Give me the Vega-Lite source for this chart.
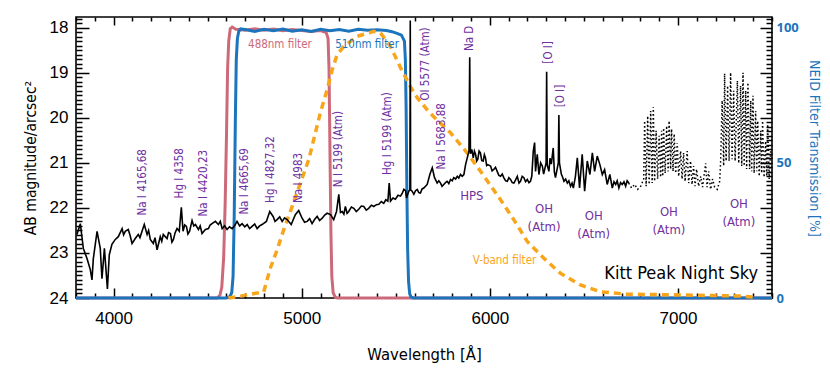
{
  "$schema": "https://vega.github.io/schema/vega-lite/v6.json",
  "width": 696,
  "height": 281,
  "autosize": {"type": "none"},
  "padding": {"left": 76, "top": 17, "right": 58, "bottom": 75},
  "background": "white",
  "config": {
    "view": {"stroke": "black", "strokeWidth": 1.6},
    "axis": {"grid": false, "domain": false}
  },
  "datasets": {
    "spec": [
      {"w":3805,"m":22.59},{"w":3823,"m":22.35},{"w":3839,"m":22.90},{"w":3859,"m":23.13},{"w":3876,"m":23.37},{"w":3885,"m":23.60},{"w":3892,"m":23.13},{"w":3912,"m":22.52},{"w":3929,"m":22.90},{"w":3938,"m":23.57},{"w":3951,"m":22.90},{"w":3967,"m":23.80},{"w":3977,"m":23.04},{"w":3991,"m":22.81},{"w":4009,"m":22.70},{"w":4025,"m":22.64},{"w":4045,"m":22.46},{"w":4053,"m":22.60},{"w":4062,"m":22.52},{"w":4078,"m":22.48},{"w":4088,"m":22.62},{"w":4098,"m":22.79},{"w":4115,"m":22.68},{"w":4131,"m":22.59},{"w":4140,"m":22.66},{"w":4151,"m":22.52},{"w":4163,"m":22.37},{"w":4178,"m":22.59},{"w":4186,"m":22.50},{"w":4195,"m":22.70},{"w":4211,"m":22.79},{"w":4220,"m":22.66},{"w":4231,"m":22.93},{"w":4248,"m":22.64},{"w":4256,"m":22.74},{"w":4264,"m":22.59},{"w":4284,"m":22.68},{"w":4292,"m":22.55},{"w":4302,"m":22.57},{"w":4310,"m":22.76},{"w":4318,"m":22.70},{"w":4327,"m":22.55},{"w":4337,"m":22.46},{"w":4349,"m":22.52},{"w":4360,"m":21.99},{"w":4369,"m":22.52},{"w":4378,"m":22.38},{"w":4387,"m":22.41},{"w":4395,"m":22.58},{"w":4404,"m":22.52},{"w":4417,"m":22.28},{"w":4426,"m":22.40},{"w":4435,"m":22.37},{"w":4451,"m":22.48},{"w":4460,"m":22.40},{"w":4470,"m":22.57},{"w":4488,"m":22.48},{"w":4504,"m":22.46},{"w":4513,"m":22.38},{"w":4523,"m":22.35},{"w":4541,"m":22.30},{"w":4557,"m":22.37},{"w":4567,"m":22.30},{"w":4577,"m":22.46},{"w":4590,"m":22.40},{"w":4603,"m":22.48},{"w":4616,"m":22.42},{"w":4630,"m":22.46},{"w":4643,"m":22.40},{"w":4656,"m":22.30},{"w":4670,"m":22.40},{"w":4683,"m":22.35},{"w":4697,"m":22.42},{"w":4710,"m":22.37},{"w":4723,"m":22.46},{"w":4736,"m":22.41},{"w":4750,"m":22.36},{"w":4763,"m":22.46},{"w":4776,"m":22.40},{"w":4789,"m":22.37},{"w":4812,"m":22.30},{"w":4830,"m":22.08},{"w":4848,"m":22.19},{"w":4858,"m":22.30},{"w":4869,"m":22.26},{"w":4883,"m":22.20},{"w":4896,"m":22.30},{"w":4909,"m":22.22},{"w":4922,"m":22.26},{"w":4944,"m":22.37},{"w":4966,"m":22.15},{"w":4984,"m":22.06},{"w":5002,"m":22.23},{"w":5015,"m":22.32},{"w":5029,"m":22.30},{"w":5042,"m":22.24},{"w":5055,"m":22.35},{"w":5068,"m":22.26},{"w":5082,"m":22.19},{"w":5095,"m":22.28},{"w":5109,"m":22.23},{"w":5122,"m":22.16},{"w":5135,"m":22.12},{"w":5153,"m":22.15},{"w":5170,"m":22.26},{"w":5185,"m":22.08},{"w":5197,"m":21.70},{"w":5206,"m":22.10},{"w":5215,"m":22.08},{"w":5224,"m":22.14},{"w":5232,"m":21.97},{"w":5241,"m":22.12},{"w":5250,"m":22.08},{"w":5264,"m":21.98},{"w":5277,"m":22.01},{"w":5290,"m":22.08},{"w":5303,"m":22.03},{"w":5317,"m":21.96},{"w":5330,"m":21.97},{"w":5343,"m":22.05},{"w":5356,"m":22.01},{"w":5370,"m":21.94},{"w":5383,"m":21.97},{"w":5397,"m":21.93},{"w":5410,"m":21.92},{"w":5423,"m":21.86},{"w":5436,"m":21.90},{"w":5447,"m":21.82},{"w":5458,"m":21.85},{"w":5465,"m":21.45},{"w":5472,"m":21.85},{"w":5485,"m":21.78},{"w":5498,"m":21.81},{"w":5512,"m":21.72},{"w":5525,"m":21.74},{"w":5534,"m":21.68},{"w":5543,"m":21.59},{"w":5552,"m":21.62},{"w":5557,"m":21.78},{"w":5569,"m":21.63},{"w":5575,"m":21.60},{"w":5577,"m":17.84},{"w":5579,"m":21.60},{"w":5587,"m":21.63},{"w":5596,"m":21.70},{"w":5605,"m":21.62},{"w":5614,"m":21.59},{"w":5622,"m":21.66},{"w":5631,"m":21.67},{"w":5640,"m":21.58},{"w":5649,"m":21.56},{"w":5667,"m":21.48},{"w":5681,"m":21.26},{"w":5694,"m":21.11},{"w":5706,"m":21.33},{"w":5720,"m":21.45},{"w":5729,"m":21.40},{"w":5738,"m":21.45},{"w":5746,"m":21.52},{"w":5755,"m":21.48},{"w":5764,"m":21.44},{"w":5773,"m":21.41},{"w":5782,"m":21.46},{"w":5791,"m":21.37},{"w":5800,"m":21.40},{"w":5808,"m":21.33},{"w":5818,"m":21.36},{"w":5827,"m":21.30},{"w":5835,"m":21.34},{"w":5844,"m":21.26},{"w":5853,"m":21.30},{"w":5862,"m":21.26},{"w":5871,"m":21.04},{"w":5880,"m":20.89},{"w":5889,"m":20.74},{"w":5893,"m":18.66},{"w":5897,"m":20.80},{"w":5904,"m":20.70},{"w":5912,"m":20.89},{"w":5918,"m":20.74},{"w":5924,"m":20.81},{"w":5930,"m":20.96},{"w":5936,"m":20.92},{"w":5943,"m":20.74},{"w":5950,"m":20.78},{"w":5957,"m":20.95},{"w":5965,"m":20.96},{"w":5971,"m":20.82},{"w":5977,"m":20.89},{"w":5983,"m":21.06},{"w":5989,"m":21.04},{"w":6004,"m":21.07},{"w":6012,"m":21.18},{"w":6021,"m":21.15},{"w":6030,"m":21.10},{"w":6039,"m":21.19},{"w":6048,"m":21.28},{"w":6057,"m":21.30},{"w":6066,"m":21.25},{"w":6074,"m":21.33},{"w":6084,"m":21.40},{"w":6093,"m":21.41},{"w":6101,"m":21.33},{"w":6110,"m":21.37},{"w":6119,"m":21.44},{"w":6128,"m":21.45},{"w":6137,"m":21.38},{"w":6146,"m":21.30},{"w":6155,"m":21.45},{"w":6163,"m":21.41},{"w":6172,"m":21.30},{"w":6181,"m":21.33},{"w":6190,"m":21.42},{"w":6199,"m":21.37},{"w":6208,"m":21.44},{"w":6216,"m":21.41},{"w":6223,"m":21.30},{"w":6231,"m":20.74},{"w":6238,"m":20.55},{"w":6243,"m":21.19},{"w":6252,"m":20.81},{"w":6261,"m":21.26},{"w":6270,"m":21.00},{"w":6279,"m":21.07},{"w":6286,"m":21.25},{"w":6292,"m":21.14},{"w":6299,"m":21.00},{"w":6302,"m":18.98},{"w":6305,"m":21.05},{"w":6314,"m":21.19},{"w":6320,"m":20.90},{"w":6327,"m":21.03},{"w":6337,"m":20.67},{"w":6343,"m":21.20},{"w":6349,"m":21.33},{"w":6364,"m":21.00},{"w":6367,"m":19.94},{"w":6370,"m":21.00},{"w":6380,"m":21.25},{"w":6387,"m":21.32},{"w":6394,"m":21.41},{"w":6403,"m":21.36},{"w":6412,"m":21.45},{"w":6420,"m":21.40},{"w":6429,"m":21.52},{"w":6437,"m":21.45},{"w":6444,"m":21.56},{"w":6455,"m":21.30},{"w":6465,"m":20.89},{"w":6477,"m":21.56},{"w":6491,"m":20.81},{"w":6504,"m":21.63},{"w":6518,"m":20.96},{"w":6532,"m":21.26},{"w":6545,"m":20.78},{"w":6557,"m":21.19},{"w":6571,"m":20.85},{"w":6585,"m":21.04},{"w":6598,"m":21.26},{"w":6610,"m":21.15},{"w":6624,"m":21.48},{"w":6638,"m":21.26},{"w":6651,"m":21.56},{"w":6660,"m":21.42},{"w":6669,"m":21.48},{"w":6677,"m":21.40},{"w":6686,"m":21.56},{"w":6695,"m":21.44},{"w":6704,"m":21.48},{"w":6713,"m":21.42},{"w":6722,"m":21.52},{"w":6730,"m":21.40},{"w":6739,"m":21.45}
    ],
    "oh": [
      {"w":6738,"m":21.45},{"w":6754,"m":21.56},{"w":6770,"m":21.48},{"w":6786,"m":21.59},{"w":6802,"m":21.52},{"w":6818,"m":21.36},{"w":6823,"m":20.07},{"w":6831,"m":21.52},{"w":6839,"m":19.96},{"w":6847,"m":21.48},{"w":6855,"m":19.85},{"w":6863,"m":21.45},{"w":6869,"m":19.76},{"w":6876,"m":21.41},{"w":6884,"m":20.29},{"w":6892,"m":21.36},{"w":6900,"m":20.40},{"w":6908,"m":21.32},{"w":6913,"m":20.29},{"w":6919,"m":21.30},{"w":6924,"m":20.23},{"w":6932,"m":21.23},{"w":6940,"m":20.18},{"w":6948,"m":21.19},{"w":6953,"m":20.07},{"w":6961,"m":21.14},{"w":6966,"m":20.25},{"w":6974,"m":21.19},{"w":6980,"m":20.36},{"w":6988,"m":21.23},{"w":6996,"m":20.56},{"w":7004,"m":21.30},{"w":7014,"m":20.74},{"w":7022,"m":21.36},{"w":7030,"m":20.78},{"w":7038,"m":21.41},{"w":7049,"m":20.74},{"w":7057,"m":21.45},{"w":7067,"m":20.96},{"w":7075,"m":21.48},{"w":7083,"m":21.07},{"w":7091,"m":21.52},{"w":7099,"m":21.14},{"w":7110,"m":21.52},{"w":7121,"m":21.30},{"w":7131,"m":21.54},{"w":7147,"m":21.01},{"w":7155,"m":21.54},{"w":7163,"m":21.19},{"w":7174,"m":21.59},{"w":7184,"m":21.36},{"w":7195,"m":21.54},{"w":7209,"m":21.59},{"w":7222,"m":21.41},{"w":7227,"m":20.96},{"w":7235,"m":19.62},{"w":7243,"m":21.07},{"w":7248,"m":19.02},{"w":7256,"m":20.96},{"w":7264,"m":19.29},{"w":7272,"m":20.96},{"w":7280,"m":19.00},{"w":7288,"m":20.92},{"w":7296,"m":19.40},{"w":7304,"m":20.96},{"w":7316,"m":19.18},{"w":7323,"m":21.01},{"w":7333,"m":19.29},{"w":7339,"m":21.07},{"w":7346,"m":19.00},{"w":7352,"m":21.07},{"w":7360,"m":19.40},{"w":7365,"m":21.14},{"w":7372,"m":19.22},{"w":7381,"m":21.14},{"w":7387,"m":19.62},{"w":7392,"m":21.19},{"w":7399,"m":19.51},{"w":7405,"m":21.23},{"w":7413,"m":19.85},{"w":7419,"m":21.19},{"w":7424,"m":20.07},{"w":7432,"m":21.30},{"w":7440,"m":20.29},{"w":7445,"m":21.23},{"w":7450,"m":20.07},{"w":7458,"m":21.32},{"w":7466,"m":20.52},{"w":7472,"m":21.30},{"w":7477,"m":20.14},{"w":7485,"m":21.36},{"w":7493,"m":20.74}
    ],
    "pink": [
      {"w":3800,"t":0},{"w":4550,"t":0},{"w":4565,"t":1},{"w":4575,"t":4},{"w":4585,"t":15},{"w":4593,"t":35},{"w":4600,"t":60},{"w":4606,"t":85},{"w":4612,"t":95},{"w":4620,"t":99.6},{"w":4630,"t":100.2},{"w":4650,"t":99.4},{"w":4700,"t":99.0},{"w":4750,"t":99.6},{"w":4800,"t":99.0},{"w":4850,"t":99.5},{"w":4900,"t":98.8},{"w":4950,"t":99.3},{"w":5000,"t":98.9},{"w":5050,"t":98.6},{"w":5100,"t":98.9},{"w":5130,"t":98.2},{"w":5140,"t":96},{"w":5145,"t":85},{"w":5150,"t":55},{"w":5155,"t":25},{"w":5160,"t":8},{"w":5167,"t":2},{"w":5178,"t":0.3},{"w":5190,"t":0},{"w":7500,"t":0}
    ],
    "blue": [
      {"w":3800,"t":0},{"w":4600,"t":0},{"w":4618,"t":0.5},{"w":4628,"t":2},{"w":4635,"t":8},{"w":4641,"t":30},{"w":4647,"t":65},{"w":4652,"t":88},{"w":4658,"t":96},{"w":4665,"t":98.5},{"w":4675,"t":99.5},{"w":4700,"t":99.3},{"w":4750,"t":98.6},{"w":4800,"t":99.4},{"w":4850,"t":98.8},{"w":4900,"t":99.5},{"w":4950,"t":98.7},{"w":5000,"t":99.2},{"w":5050,"t":98.6},{"w":5100,"t":99.4},{"w":5150,"t":98.8},{"w":5200,"t":99.3},{"w":5250,"t":98.7},{"w":5300,"t":99.4},{"w":5350,"t":99.0},{"w":5400,"t":99.2},{"w":5450,"t":98.9},{"w":5480,"t":98.5},{"w":5510,"t":97.8},{"w":5530,"t":97.2},{"w":5546,"t":95},{"w":5551,"t":88},{"w":5555,"t":70},{"w":5559,"t":40},{"w":5563,"t":18},{"w":5568,"t":6},{"w":5574,"t":1.5},{"w":5582,"t":0.3},{"w":5595,"t":0},{"w":7500,"t":0}
    ],
    "vband": [
      {"w":4610,"t":0},{"w":4674,"t":0.7},{"w":4798,"t":2.3},{"w":4833,"t":11},{"w":4869,"t":17.8},{"w":4904,"t":25.2},{"w":4949,"t":33.8},{"w":4993,"t":42.5},{"w":5037,"t":51.1},{"w":5099,"t":68.5},{"w":5135,"t":77},{"w":5162,"t":84.4},{"w":5188,"t":90},{"w":5223,"t":93},{"w":5295,"t":96.8},{"w":5383,"t":98.6},{"w":5419,"t":98},{"w":5472,"t":93},{"w":5525,"t":85.2},{"w":5578,"t":78.1},{"w":5614,"t":74.1},{"w":5667,"t":69.6},{"w":5702,"t":67},{"w":5791,"t":61.1},{"w":5880,"t":53.6},{"w":5968,"t":45.2},{"w":6057,"t":36.3},{"w":6128,"t":28.9},{"w":6199,"t":20.9},{"w":6287,"t":14.7},{"w":6376,"t":9.1},{"w":6482,"t":4.8},{"w":6589,"t":2.3},{"w":6731,"t":1.4},{"w":7050,"t":1.1},{"w":7333,"t":0.7},{"w":7397,"t":0.4}
    ],
    "flabels": [
      {"w":4884,"t":93.7,"label":"488nm filter","f":"488"},
      {"w":5347,"t":93.7,"label":"510nm filter","f":"510"},
      {"w":6078,"t":13.7,"label":"V-band filter","f":"V"}
    ],
    "vlabels": [
      {"w":4155,"m":22.17,"label":"Na I  4165,68"},
      {"w":4355,"m":21.79,"label":"Hg I  4358"},
      {"w":4479,"m":22.19,"label":"Na I  4420,23"},
      {"w":4700,"m":22.15,"label":"Na I  4665,69"},
      {"w":4839,"m":21.89,"label":"Hg I  4827,32"},
      {"w":4984,"m":21.89,"label":"Na I  4983"},
      {"w":5198,"m":21.54,"label":"N I  5199 (Atm)"},
      {"w":5461,"m":21.27,"label":"Hg I  5199 (Atm)"},
      {"w":5663,"m":19.62,"label":"OI  5577 (Atm)"},
      {"w":5748,"m":21.15,"label":"Na I  5683,88"},
      {"w":5892,"m":18.52,"label":"Na D"},
      {"w":6315,"m":18.80,"label":"[O I]"},
      {"w":6378,"m":19.77,"label":"[O I]"}
    ],
    "hlabels": [
      {"w":5904,"m":21.73,"label":["HPS"]},
      {"w":6288,"m":22.02,"label":["OH","(Atm)"]},
      {"w":6552,"m":22.19,"label":["OH","(Atm)"]},
      {"w":6952,"m":22.10,"label":["OH","(Atm)"]},
      {"w":7324,"m":21.91,"label":["OH","(Atm)"]}
    ],
    "title": [{"w":7017,"m":23.46,"label":"Kitt Peak Night Sky"}],
    "edges": [{"w":3800},{"w":7500}]
  },
  "layer": [
    {
      "encoding": {
        "x": {
          "field": "w", "type": "quantitative",
          "scale": {"domain": [3800, 7500], "nice": false, "zero": false},
          "axis": {
            "orient": "bottom",
            "values": [3800,3900,4000,4100,4200,4300,4400,4500,4600,4700,4800,4900,5000,5100,5200,5300,5400,5500,5600,5700,5800,5900,6000,6100,6200,6300,6400,6500,6600,6700,6800,6900,7000,7100,7200,7300,7400,7500],
            "labelExpr": "datum.value % 1000 === 0 ? format(datum.value, 'd') : ''",
            "tickSize": {"condition": {"test": "datum.value % 1000 === 0", "value": -10}, "value": -5},
            "tickColor": "black", "tickWidth": 1.5,
            "labelFont": "Liberation Sans", "labelFontSize": 17, "labelColor": "black", "labelPadding": 22,
            "labelOverlap": false, "labelFlush": false,
            "title": "Wavelength [Å]", "titleFont": "DejaVu Sans Condensed, Liberation Sans Narrow, sans-serif", "titleFontSize": 16.5, "titleFontWeight": "normal", "titleColor": "black", "titlePadding": 15
          }
        }
      },
      "layer": [
        {
          "encoding": {
            "y": {
              "field": "t", "type": "quantitative",
              "scale": {"domain": [0, 103.92], "nice": false, "zero": false},
              "axis": {
                "orient": "right",
                "values": [0,1.6667,3.3333,5,6.6667,8.3333,10,11.6667,13.3333,15,16.6667,18.3333,20,21.6667,23.3333,25,26.6667,28.3333,30,31.6667,33.3333,35,36.6667,38.3333,40,41.6667,43.3333,45,46.6667,48.3333,50,51.6667,53.3333,55,56.6667,58.3333,60,61.6667,63.3333,65,66.6667,68.3333,70,71.6667,73.3333,75,76.6667,78.3333,80,81.6667,83.3333,85,86.6667,88.3333,90,91.6667,93.3333,95,96.6667,98.3333,100,101.6667,103.3333],
                "labelExpr": "abs(datum.value - round(datum.value / 50) * 50) < 0.01 ? format(datum.value, 'd') : ''",
                "tickSize": {"condition": {"test": "abs(datum.value * 0.06 - round(datum.value * 0.06)) < 0.01", "value": -12}, "value": -6},
                "tickColor": "black", "tickWidth": 1.5,
                "labelFont": "Open Sans", "labelFontWeight": "bold", "labelFontSize": 13, "labelColor": "#1C75BC", "labelPadding": 16,
                "labelOverlap": false, "labelFlush": false,
                "title": "NEID Filter Transmission [%]", "titleFont": "DejaVu Sans Condensed, Liberation Sans Narrow, sans-serif", "titleFontSize": 14, "titleFontWeight": "normal", "titleColor": "#1C75BC", "titlePadding": 8, "titleY": 131
              }
            }
          },
          "layer": [
            {"data": {"name": "pink"}, "mark": {"type": "line", "color": "#CD6A7A", "strokeWidth": 3}},
            {"data": {"name": "blue"}, "mark": {"type": "line", "color": "#1C75BC", "strokeWidth": 3}},
            {"data": {"name": "vband"}, "mark": {"type": "line", "color": "#F9A51B", "strokeWidth": 3.5, "strokeDash": [7, 5]}},
            {
              "data": {"name": "flabels"},
              "mark": {"type": "text", "align": "center", "baseline": "middle", "font": "DejaVu Sans Condensed, Liberation Sans Narrow, sans-serif", "fontSize": 11.5},
              "encoding": {
                "text": {"field": "label"},
                "color": {"field": "f", "type": "nominal", "scale": {"domain": ["488", "510", "V"], "range": ["#CD6A7A", "#1C75BC", "#F9A51B"]}, "legend": null}
              }
            }
          ]
        },
        {
          "encoding": {
            "y": {
              "field": "m", "type": "quantitative",
              "scale": {"domain": [17.765, 24], "reverse": true, "nice": false, "zero": false},
              "axis": {
                "orient": "left",
                "values": [17.8,17.9,18,18.1,18.2,18.3,18.4,18.5,18.6,18.7,18.8,18.9,19,19.1,19.2,19.3,19.4,19.5,19.6,19.7,19.8,19.9,20,20.1,20.2,20.3,20.4,20.5,20.6,20.7,20.8,20.9,21,21.1,21.2,21.3,21.4,21.5,21.6,21.7,21.8,21.9,22,22.1,22.2,22.3,22.4,22.5,22.6,22.7,22.8,22.9,23,23.1,23.2,23.3,23.4,23.5,23.6,23.7,23.8,23.9,24],
                "labelExpr": "abs(datum.value - round(datum.value)) < 0.01 ? format(datum.value, 'd') : ''",
                "tickSize": {"condition": {"test": "abs(datum.value - round(datum.value)) < 0.01", "value": -13}, "value": -6},
                "tickColor": "black", "tickWidth": 1.5,
                "labelFont": "Liberation Sans", "labelFontSize": 17, "labelColor": "black", "labelPadding": 21,
                "labelOverlap": false, "labelFlush": false,
                "title": "AB magnitude/arcsec²", "titleFont": "DejaVu Sans Condensed, Liberation Sans Narrow, sans-serif", "titleFontSize": 15.5, "titleFontWeight": "normal", "titleColor": "black", "titlePadding": 11
              }
            }
          },
          "layer": [
            {"data": {"name": "spec"}, "mark": {"type": "line", "color": "black", "strokeWidth": 1.6}},
            {"data": {"name": "oh"}, "mark": {"type": "line", "color": "black", "strokeWidth": 1.5, "strokeDash": [1.5, 2.5]}},
            {
              "data": {"name": "vlabels"},
              "mark": {"type": "text", "angle": 270, "align": "left", "baseline": "middle", "font": "DejaVu Sans Condensed, Liberation Sans Narrow, sans-serif", "fontSize": 11.5, "color": "#7030A0"},
              "encoding": {"text": {"field": "label"}}
            },
            {
              "data": {"name": "hlabels"},
              "mark": {"type": "text", "align": "center", "baseline": "middle", "font": "DejaVu Sans Condensed, Liberation Sans Narrow, sans-serif", "fontSize": 13, "lineHeight": 18, "color": "#7030A0"},
              "encoding": {"text": {"field": "label"}}
            },
            {
              "data": {"name": "title"},
              "mark": {"type": "text", "align": "center", "baseline": "middle", "font": "DejaVu Sans Condensed, Liberation Sans Narrow, sans-serif", "fontSize": 18, "color": "black"},
              "encoding": {"text": {"field": "label"}}
            }
          ]
        }
      ],
      "resolve": {"scale": {"y": "independent"}}
    },
    {
      "data": {"name": "edges"},
      "mark": {"type": "rule", "opacity": 0},
      "encoding": {
        "x": {
          "field": "w", "type": "quantitative",
          "scale": {"domain": [3800, 7500], "nice": false, "zero": false},
          "axis": {
            "orient": "top",
            "values": [3800,3900,4000,4100,4200,4300,4400,4500,4600,4700,4800,4900,5000,5100,5200,5300,5400,5500,5600,5700,5800,5900,6000,6100,6200,6300,6400,6500,6600,6700,6800,6900,7000,7100,7200,7300,7400,7500],
            "labels": false,
            "tickSize": {"condition": {"test": "datum.value % 1000 === 0", "value": -8}, "value": -4},
            "tickColor": "black", "tickWidth": 1.5,
            "title": null
          }
        }
      }
    }
  ],
  "resolve": {"scale": {"x": "independent"}}
}
